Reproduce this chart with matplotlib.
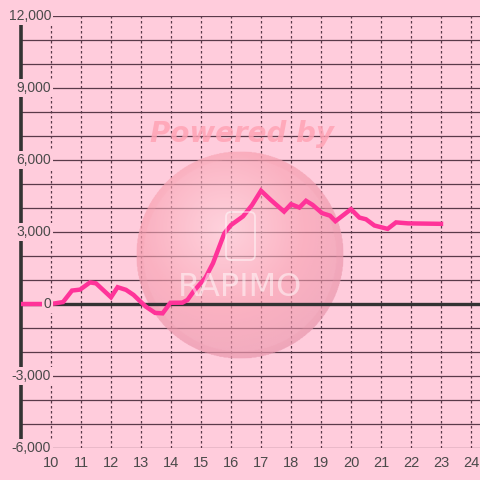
import matplotlib
matplotlib.use("Agg")
import numpy as np
import matplotlib.pyplot as plt
from matplotlib.patches import Circle, FancyBboxPatch

# ---- data ----
x_vals = [9.0, 10.0, 10.4, 10.7, 10.97, 11.3, 11.5, 12.0, 12.22, 12.5, 12.75, 13.15,
          13.47, 13.72, 13.98, 14.38, 14.55, 14.75, 15.15, 15.4, 15.78, 16.0, 16.4,
          16.7, 17.0, 17.33, 17.77, 18.0, 18.28, 18.5, 18.72, 19.03, 19.3, 19.48,
          20.0, 20.28, 20.5, 20.78, 21.22, 21.5, 21.9, 23.0]
y_vals = [0, 0, 80, 560, 600, 900, 860, 280, 700, 590, 380, -100,
          -370, -390, 50, 55, 170, 520, 1100, 1700, 2950, 3290, 3650,
          4120, 4720, 4330, 3850, 4160, 4020, 4300, 4130, 3790, 3680, 3450,
          3950, 3600, 3530, 3270, 3130, 3400, 3360, 3340]
x_ticks = list(range(10, 25))
y_label_vals = [12000, 9000, 6000, 3000, 0, -3000, -6000]
y_label_text = ["12,000", "9,000", "6,000", "3,000", "0", "-3,000", "-6,000"]
y_grid_vals = list(range(-6000, 12001, 1000))

BG = "#ffccdc"
LINE = "#ff3399"
GRID = "#5a3a4a"
DARK = "#333333"
TXT = "#4a4a4a"

plt.rcParams['font.family'] = ['Liberation Sans', 'DejaVu Sans']

fig = plt.figure(figsize=(4.8, 4.8), dpi=100, facecolor=BG)
ax = fig.add_axes([21/480, 32/480, 459/480, 432/480])
ax.set_facecolor(BG)
ax.set_xlim(9.0, 24.3)
ax.set_ylim(-6000, 12000)
for s in ax.spines.values():
    s.set_visible(False)

# grid
for v in y_grid_vals:
    ax.axhline(v, color=GRID, lw=0.9, zorder=1)
for v in x_ticks:
    ax.axvline(v, color=GRID, lw=0.9, ls=(0, (2, 2)), zorder=1)

# ---- watermark (decoration) ----
fig.canvas.draw()
cx_px, cy_px, r_px = 240, 480 - 255, 104
inv = ax.transData.inverted()
(x0, y0) = inv.transform((cx_px - r_px, cy_px - r_px))
(x1, y1) = inv.transform((cx_px + r_px, cy_px + r_px))
n = 300
gy, gx = np.mgrid[1:-1:n*1j, -1:1:n*1j]
d = np.sqrt((gx + 0.15) ** 2 + (gy - 0.25) ** 2) / 1.3
d = np.clip(d, 0, 1)
rr = np.sqrt(gx ** 2 + gy ** 2)
c_center = np.array([255, 215, 222]) / 255
c_mid = np.array([248, 160, 176]) / 255
c_edge = np.array([232, 150, 172]) / 255
t = d[..., None]
col = np.where(t < 0.6, c_center + (c_mid - c_center) * (t / 0.6),
               c_mid + (c_edge - c_mid) * ((t - 0.6) / 0.4))
alpha = np.where(rr <= 1.0, 0.6, 0.0)
alpha = np.where((rr > 0.93) & (rr <= 1.0), 0.7, alpha)
img = np.dstack([col, alpha])
im = ax.imshow(img, extent=(x0, x1, y0, y1), aspect="auto", zorder=1.5,
               interpolation="bilinear")
clip = Circle((cx_px, cy_px), r_px, transform=None)
im.set_clip_path(clip)
ax.set_xlim(9.0, 24.3)
ax.set_ylim(-6000, 12000)

rect = FancyBboxPatch((2.26, 4.8 - 2.60), 0.29, 0.48, boxstyle="round,pad=0.0,rounding_size=0.05",
                      transform=fig.dpi_scale_trans, facecolor="none",
                      edgecolor="white", lw=1.3, alpha=0.5, zorder=1.7)
fig.add_artist(rect)
fig.text(240/480, 1 - 288/480, "RAPIMO", ha="center", va="center", fontsize=23,
         color="white", alpha=0.5, zorder=1.7,
         family=["Liberation Sans Narrow", "DejaVu Sans"])
fig.text(242/480, 1 - 134/480, "Powered by", ha="center", va="center", fontsize=20,
         color="#ffa3b5", alpha=0.85, fontweight="bold", style="italic", zorder=1.7,
         family=["DejaVu Sans"])

# axis lines
ax.axvline(9.0, color=DARK, lw=2.6, zorder=2, clip_on=False)
ax.axhline(0, color=DARK, lw=2.4, zorder=2)

# series
ax.plot(x_vals, y_vals, color=LINE, lw=3.2, zorder=3, solid_joinstyle="miter")

# y labels
tr = ax.get_yaxis_transform()
for v, t_ in zip(y_label_vals, y_label_text):
    ax.text(30/459, v, t_, transform=tr, ha="right", va="center", fontsize=10,
            color=TXT, zorder=4,
            bbox=dict(boxstyle="square,pad=0.12", facecolor=BG, edgecolor="none"))

# x ticks
ax.set_yticks([])
ax.set_xticks(x_ticks)
ax.set_xticklabels([str(v) for v in x_ticks])
ax.tick_params(axis="x", length=0, pad=6, labelsize=10.5, labelcolor=TXT)

fig.savefig("out.png", dpi=100, facecolor=BG)
